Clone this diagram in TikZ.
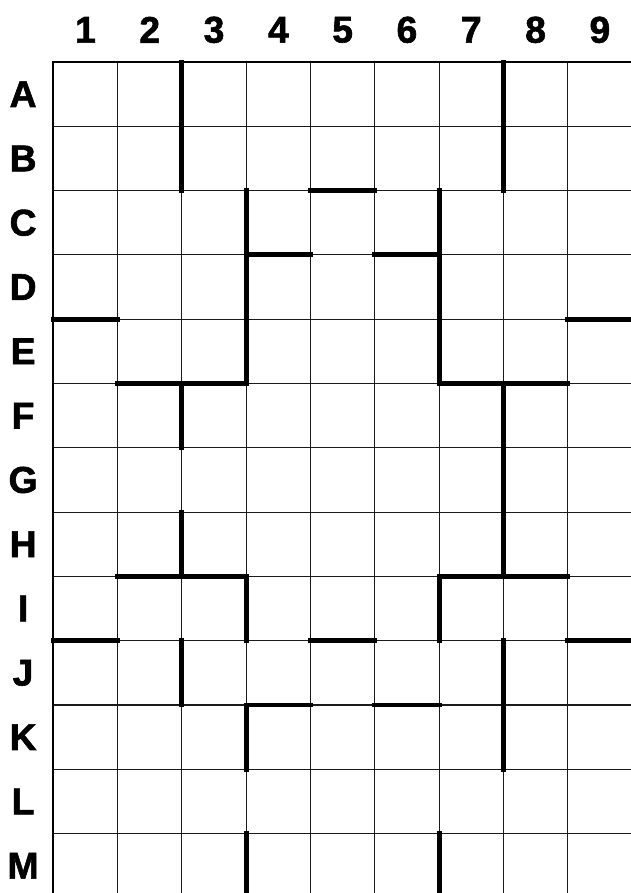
\documentclass[tikz,border=0pt]{standalone}
\usepackage{fontspec}
\setmainfont{Liberation Sans}
\newfontfamily\labelfont{Liberation Sans Bold}[FakeBold=1.6]
\usepackage{xcolor}
\usepackage{tikz}
\usetikzlibrary{positioning}
\definecolor{gridink}{HTML}{1A1A1A}
\tikzset{
  cellline/.style={draw=gridink, line width=0.45pt},
  frameline/.style={draw=black, line width=1pt},
  wall/.style={draw=black, line width=2.2pt, line cap=rect},
  collabel/.style={font=\fontsize{16.5}{18}\labelfont, text=black, inner sep=0pt},
  rowlabel/.style={collabel},
}

\begin{document}
\begin{tikzpicture}[x=1cm, y=-1cm]

  \useasboundingbox (-0.829,-0.964) rectangle (8.969,12.924);

  % cells
  \draw[cellline] (0,0) grid (9,13);
  \draw[frameline] (0,13.2) -- (0,0) -- (9.2,0);

  % labels
  \foreach \c in {1,...,9}
    \node[collabel] (col\c) at (\c-0.5,-0.5) {\c};
  \foreach \r [count=\i] in {A,B,C,D,E,F,G,H,I,J,K,L,M}
    \node[rowlabel] (row\r) at (-0.47,\i-0.5) {\r};

  % vertical walls
  \draw[wall] (2,0) -- (2,2);
  \draw[wall] (7,0) -- (7,2);
  \draw[wall] (3,2) -- (3,5);
  \draw[wall] (6,2) -- (6,5);
  \draw[wall] (2,5) -- (2,6);
  \draw[wall] (7,5) -- (7,8);
  \draw[wall] (2,7) -- (2,8);
  \draw[wall] (3,8) -- (3,9);
  \draw[wall] (6,8) -- (6,9);
  \draw[wall] (2,9) -- (2,10);
  \draw[wall] (7,9) -- (7,11);
  \draw[wall] (3,10) -- (3,11);
  \draw[wall] (3,12) -- (3,13);
  \draw[wall] (6,12) -- (6,13);

  % horizontal walls
  \draw[wall] (4,2) -- (5,2);
  \draw[wall] (3,3) -- (4,3);
  \draw[wall] (5,3) -- (6,3);
  \draw[wall] (0,4) -- (1,4);
  \draw[wall] (8,4) -- (9,4);
  \draw[wall] (1,5) -- (3,5);
  \draw[wall] (6,5) -- (8,5);
  \draw[wall] (1,8) -- (3,8);
  \draw[wall] (6,8) -- (8,8);
  \draw[wall] (0,9) -- (1,9);
  \draw[wall] (4,9) -- (5,9);
  \draw[wall] (8,9) -- (9,9);
  \draw[wall] (3,10) -- (4,10);
  \draw[wall] (5,10) -- (6,10);

\end{tikzpicture}
\end{document}
